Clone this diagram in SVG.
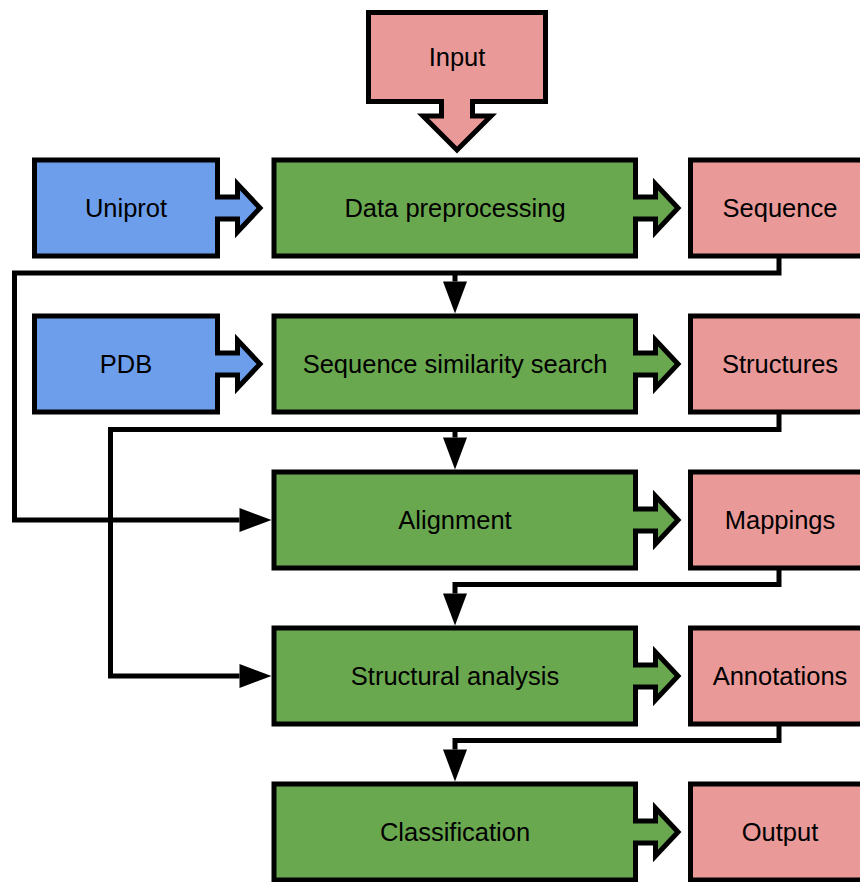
<svg xmlns="http://www.w3.org/2000/svg" width="860" height="882" viewBox="0 0 860 882">
  <style>
    .shape { stroke: #000; stroke-width: 5; stroke-linejoin: miter; }
    .pink { fill: #EA9999; }
    .green { fill: #6AA84F; }
    .blue { fill: #6D9EEB; }
    .lbl { font-family: "Liberation Sans", Arial, sans-serif; font-size: 25.5px; fill: #000; text-anchor: middle; }
    .conn { fill: none; stroke: #000; stroke-width: 5; stroke-linejoin: miter; marker-end: url(#ah); }
  </style>
  <defs>
    <marker id="ah" markerUnits="userSpaceOnUse" markerWidth="32" markerHeight="24" refX="0" refY="12" orient="auto" overflow="visible">
      <path d="M0,0 L32,12 L0,24 Z" fill="#000"/>
    </marker>
  </defs>

  <g id="connectors">
    <path class="conn" d="M779,256 V273 H14.5 V520 H239.5"/>
    <path class="conn" d="M455,273 V281.5"/>
    <path class="conn" d="M779,412 V429.5 H110.5 V676 H239.5"/>
    <path class="conn" d="M455,429.5 V437.5"/>
    <path class="conn" d="M779,568 V584.5 H455 V593.5"/>
    <path class="conn" d="M779,724 V740.5 H455 V749.5"/>
  </g>

  <g id="input">
    <path class="shape pink" d="M368.5,12.5 H545.5 V101.5 H472.5 V116 H491 L457,150 L423,116 H441.5 V101.5 H368.5 Z"/>
    <text class="lbl" x="457" y="66">Input</text>
  </g>

  <g id="uniprot">
    <path class="shape blue" d="M34.5,160 H217.5 V197 H237.5 V184 L260,208 L237.5,232 V219 H217.5 V256 H34.5 Z"/>
    <text class="lbl" x="126" y="217">Uniprot</text>
  </g>
  <g id="data-preprocessing">
    <path class="shape green" d="M274,160 H635.5 V197 H655.5 V184 L678,208 L655.5,232 V219 H635.5 V256 H274 Z"/>
    <text class="lbl" x="455" y="217">Data preprocessing</text>
  </g>
  <g id="sequence">
    <rect class="shape pink" x="690.5" y="160" width="182" height="96"/>
    <text class="lbl" x="780" y="217">Sequence</text>
  </g>

  <g id="pdb">
    <path class="shape blue" d="M34.5,316 H217.5 V353 H237.5 V340 L260,364 L237.5,388 V375 H217.5 V412 H34.5 Z"/>
    <text class="lbl" x="126" y="373">PDB</text>
  </g>
  <g id="sequence-similarity-search">
    <path class="shape green" d="M274,316 H635.5 V353 H655.5 V340 L678,364 L655.5,388 V375 H635.5 V412 H274 Z"/>
    <text class="lbl" x="455" y="373">Sequence similarity search</text>
  </g>
  <g id="structures">
    <rect class="shape pink" x="690.5" y="316" width="182" height="96"/>
    <text class="lbl" x="780" y="373">Structures</text>
  </g>

  <g id="alignment">
    <path class="shape green" d="M274,472 H635.5 V509 H655.5 V496 L678,520 L655.5,544 V531 H635.5 V568 H274 Z"/>
    <text class="lbl" x="455" y="529">Alignment</text>
  </g>
  <g id="mappings">
    <rect class="shape pink" x="690.5" y="472" width="182" height="96"/>
    <text class="lbl" x="780" y="529">Mappings</text>
  </g>

  <g id="structural-analysis">
    <path class="shape green" d="M274,628 H635.5 V665 H655.5 V652 L678,676 L655.5,700 V687 H635.5 V724 H274 Z"/>
    <text class="lbl" x="455" y="685">Structural analysis</text>
  </g>
  <g id="annotations">
    <rect class="shape pink" x="690.5" y="628" width="182" height="96"/>
    <text class="lbl" x="780" y="685">Annotations</text>
  </g>

  <g id="classification">
    <path class="shape green" d="M274,784 H635.5 V821 H655.5 V808 L678,832 L655.5,856 V843 H635.5 V880 H274 Z"/>
    <text class="lbl" x="455" y="841">Classification</text>
  </g>
  <g id="output">
    <rect class="shape pink" x="690.5" y="784" width="182" height="96"/>
    <text class="lbl" x="780" y="841">Output</text>
  </g>
</svg>
